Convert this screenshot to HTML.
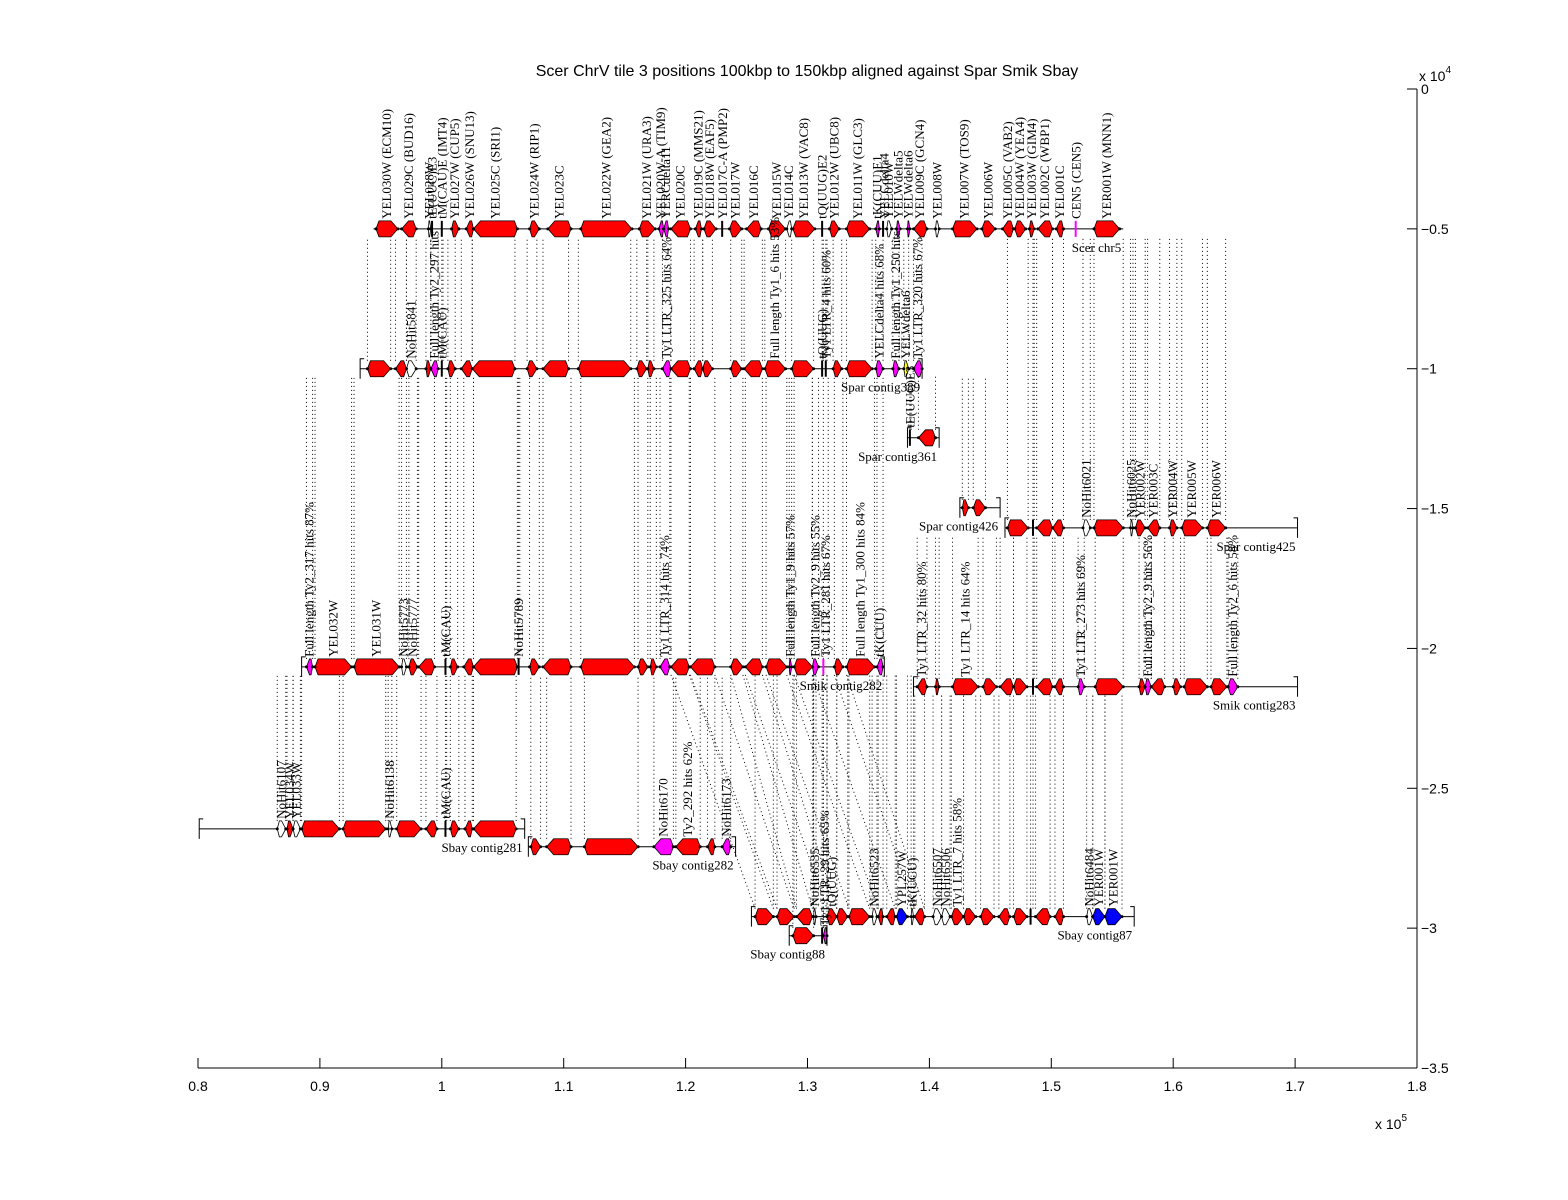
<!DOCTYPE html>
<html><head><meta charset="utf-8">
<style>
html,body{margin:0;padding:0;background:#fff;}
svg{display:block;}
text{font-family:"Liberation Serif",serif;}
.ax{font-family:"Liberation Sans",sans-serif;font-size:14px;}
</style></head>
<body>
<svg id="chart" width="1568" height="1200" viewBox="0 0 1568 1200">
<rect x="0" y="0" width="1568" height="1200" fill="#fff"/>
<text x="807" y="76" text-anchor="middle" class="ax" font-size="16" style="font-size:16px">Scer ChrV tile 3 positions 100kbp to 150kbp aligned against Spar Smik Sbay</text>
<g id="links"></g>
<g id="tracks"></g>
<g id="axes"></g>
</svg>
<script>
// axis domain
const xTicks = [0.8,0.9,1,1.1,1.2,1.3,1.4,1.5,1.6,1.7,1.8];
const yTicks = [0,-0.5,-1,-1.5,-2,-2.5,-3,-3.5];
const yTickLabels = ["0","−0.5","−1","−1.5","−2","−2.5","−3","−3.5"];
// tracks: name, y (x1e4), start/end (kbp), parent track index for links
const trackNames = ["Scer chr5","Spar contig389","Spar contig361","Spar contig426","Spar contig425","Smik contig282","Smik contig283","Sbay contig281","Sbay contig282","Sbay contig87","Sbay contig88"];
const trackY = [-0.5,-1.0,-1.247,-1.497,-1.569,-2.066,-2.137,-2.645,-2.709,-2.959,-3.027];
const trackStart = [94.4,93.3,138.2,142.5,146.2,88.5,138.7,80.1,107.1,125.4,128.5];
const trackEnd = [155.9,139.4,140.8,145.8,170.2,136.3,170.2,106.8,124.1,156.8,131.6];
const trackParent = [-1,0,1,1,0,1,4,5,5,5,5];
// genes: [start kbp, end kbp, strand, color, label]
const scerGenes = [
[94.6,96.4,1,"r","YEL030W (ECM10)"],[96.7,97.9,-1,"r","YEL029C (BUD16)"],[98.9,99.1,0,"o","YEL028W"],
[99.2,99.3,0,"k","tE(UUC)E3"],[100.0,100.1,0,"k","tM(CAU)E (IMT4)"],[100.8,101.4,1,"r","YEL027W (CUP5)"],
[102.0,102.6,-1,"r","YEL026W (SNU13)"],[102.6,106.2,-1,"r","YEL025C (SRI1)"],[107.2,108.0,1,"r","YEL024W (RIP1)"],
[108.7,110.6,-1,"r","YEL023C"],[111.4,115.6,1,"r","YEL022W (GEA2)"],[116.2,117.5,1,"r","YEL021W (URA3)"],
[117.8,118.2,-1,"m","YEL020W-A (TIM9)"],[118.2,118.6,-1,"m","YERCdelta11"],[118.8,120.4,-1,"r","YEL020C"],
[120.8,121.3,-1,"r","YEL019C (MMS21)"],[121.5,122.5,1,"r","YEL018W (EAF5)"],[123.0,123.1,0,"k","YEL017C-A (PMP2)"],
[123.6,124.6,1,"r","YEL017W"],[125.0,126.2,-1,"r","YEL016C"],[126.8,128.2,1,"r","YEL015W"],
[128.3,128.7,-1,"o","YEL014C"],[128.8,130.6,1,"r","YEL013W (VAC8)"],[131.2,131.3,0,"k","tQ(UUG)E2"],
[131.8,132.6,1,"r","YEL012W (UBC8)"],[133.2,135.1,1,"r","YEL011W (GLC3)"],[135.6,135.9,-1,"m","tK(CUU)E1"],
[136.2,136.4,0,"k","YELCdelta4"],[136.5,136.9,1,"o","YEL010W"],[137.3,137.6,1,"m","YELWdelta5"],
[138.2,138.4,1,"m","YELWdelta6"],[138.7,139.8,-1,"r","YEL009C (GCN4)"],[140.5,140.8,1,"o","YEL008W"],
[141.9,143.9,1,"r","YEL007W (TOS9)"],[144.3,145.4,1,"r","YEL006W"],[146.0,146.9,-1,"r","YEL005C (VAB2)"],
[147.0,147.9,1,"r","YEL004W (YEA4)"],[148.2,148.6,1,"r","YEL003W (GIM4)"],[148.9,150.1,-1,"r","YEL002C (WBP1)"],
[150.4,151.0,-1,"r","YEL001C"],[152.0,152.1,0,"m","CEN5 (CEN5)"],[153.5,155.6,1,"r","YER001W (MNN1)"]];
const spar389Genes = [
[93.9,95.8,1,"r",""],[96.2,97.1,-1,"r",""],[97.1,97.9,0,"o","NoHit5841"],[98.7,99.1,1,"r",""],
[99.1,99.7,-1,"m","Full length Ty2_297 hits"],[100.0,100.1,0,"k","tM(CAU)"],[100.5,101.1,1,"r",""],
[101.6,102.5,-1,"r",""],[102.5,106.0,-1,"r",""],[107.0,107.8,1,"r",""],[108.3,110.4,-1,"r",""],
[111.2,115.5,1,"r",""],[116.0,116.8,1,"r",""],[116.9,117.4,1,"r",""],[118.1,118.8,-1,"m","Ty1 LTR_325 hits 64%"],
[118.8,120.4,-1,"r",""],[120.7,121.4,-1,"r",""],[121.4,122.2,1,"r",""],[123.7,124.6,1,"r",""],
[124.8,126.3,-1,"r",""],[126.5,128.2,1,"r","Full length Ty1_6 hits 53%"],[128.7,130.5,1,"r",""],
[131.2,131.3,0,"k","tQ(UUG)"],[131.5,131.6,0,"k","Ty1 LTR_4 hits 60%"],[132.1,132.8,1,"r",""],
[133.2,135.3,1,"r",""],[135.6,136.2,1,"m","YELCdelta4 hits 68%"],[137.0,137.5,1,"m","Full length Ty1_250 hits"],
[137.9,138.3,1,"y","YELWdelta6"],[138.7,139.4,-1,"m","Ty1 LTR_320 hits 67%"]];
const spar361Genes = [[138.4,138.5,0,"k","tE(UUC)E3"],[139.1,140.5,-1,"r",""]];
const spar426Genes = [[142.7,143.2,1,"r",""],[143.6,144.6,1,"r",""]];
const spar425Genes = [
[146.4,148.1,1,"r",""],[148.5,148.6,0,"k",""],[148.8,150.1,-1,"r",""],[150.1,151.0,-1,"r",""],
[152.6,153.2,0,"o","NoHit6021"],[153.5,155.9,1,"r",""],[156.5,156.7,0,"o","NoHit6025"],
[156.9,157.7,1,"r","YER002W"],[157.9,158.9,-1,"r","YER003C"],[159.7,160.3,1,"r","YER004W"],
[160.7,162.4,1,"r","YER005W"],[162.8,164.3,1,"r","YER006W"]];
const smik282Genes = [
[88.9,89.4,-1,"m","Full length Ty2_317 hits 87%"],[89.6,92.6,1,"r","YEL032W"],[92.8,96.5,1,"r","YEL031W"],
[96.7,97.1,0,"o","NoHit5773"],[97.3,98.0,1,"r","NoHit5777"],[98.1,99.4,-1,"r",""],[100.3,100.4,0,"k","tM(CAU)"],
[100.7,101.3,1,"r",""],[101.8,102.6,-1,"r",""],[102.6,106.2,-1,"r",""],[106.3,106.4,0,"k","NoHit5789"],
[107.2,108.0,1,"r",""],[108.3,110.6,-1,"r",""],[111.4,115.8,1,"r",""],[116.1,116.9,1,"r",""],
[117.1,117.6,1,"r",""],[117.9,118.7,-1,"m","Ty1 LTR_314 hits 74%"],[118.8,120.3,-1,"r",""],
[120.4,122.4,-1,"r",""],[123.7,124.7,1,"r",""],[124.9,126.3,-1,"r",""],[126.6,128.3,1,"r",""],
[128.5,128.7,1,"m","Full length Ty1_9 hits 57%"],[128.9,130.4,1,"r",""],[130.4,130.9,1,"m","Full length Ty2_9 hits 55%"],
[131.3,131.7,0,"m","Ty1 LTR_281 hits 67%"],[132.2,132.9,1,"r",""],[133.2,135.5,1,"r","Full length Ty1_300 hits 84%"],
[135.7,136.2,-1,"m","tK(CUU)"]];
const smik283Genes = [
[139.0,139.8,-1,"r","Ty1 LTR_32 hits 80%"],[140.5,140.8,1,"r",""],[141.9,144.0,1,"r","Ty1 LTR_14 hits 64%"],
[144.4,145.5,1,"r",""],[145.8,146.9,-1,"r",""],[146.9,148.0,1,"r",""],[148.5,148.6,0,"k",""],
[148.8,150.1,-1,"r",""],[150.3,151.0,-1,"r",""],[152.2,152.7,1,"m","Ty1 LTR_273 hits 69%"],
[153.6,155.9,1,"r",""],[157.2,157.7,1,"r",""],[157.7,158.2,1,"m","Full length Ty2_9 hits 56%"],
[158.2,159.3,-1,"r",""],[160.0,160.6,1,"r",""],[160.9,162.8,1,"r",""],[163.1,164.4,1,"r",""],
[164.5,165.3,1,"m","Full length Ty2_6 hits 58%"]];
const sbay281Genes = [
[86.5,87.2,0,"o","NoHit6107"],[87.3,87.8,1,"r","YEL034W"],[87.8,88.4,0,"o","YEL033W"],
[88.5,91.6,1,"r",""],[91.9,95.4,1,"r",""],[95.6,95.9,0,"o","NoHit6138"],[96.3,98.3,1,"r",""],
[98.7,99.6,-1,"r",""],[100.3,100.4,0,"k","tM(CAU)"],[100.7,101.4,1,"r",""],[101.9,102.5,-1,"r",""],
[102.6,106.1,-1,"r",""]];
const sbay282Genes = [
[107.3,108.1,1,"r",""],[108.6,110.6,-1,"r",""],[111.7,116.1,1,"r",""],
[117.4,119.0,-1,"m","NoHit6170"],[119.2,121.2,-1,"r","Ty2_292 hits 62%"],[121.8,122.4,-1,"r",""],
[123.0,123.7,-1,"m","NoHit6173"]];
const sbay87Genes = [
[125.7,127.2,1,"r",""],[127.5,128.9,1,"r",""],[129.1,130.4,-1,"r",""],[130.5,130.7,0,"o","NoHit6535"],
[131.6,132.4,1,"r","tQ(UUG)"],[132.4,133.3,1,"r",""],[133.4,135.1,1,"r",""],[135.3,135.7,0,"o","NoHit6523"],
[135.8,136.2,-1,"r",""],[136.5,137.2,-1,"r",""],[137.3,138.2,1,"b","YPL257W"],[138.5,138.7,0,"o","tK(UCU)"],
[138.8,139.6,-1,"r",""],[140.3,141.0,0,"o","NoHit6507"],[141.0,141.7,0,"o","NoHit6506"],
[141.8,142.8,1,"r","Ty1 LTR_7 hits 58%"],[142.8,143.8,1,"r",""],[144.2,145.3,1,"r",""],[145.7,146.6,-1,"r",""],
[146.9,148.0,1,"r",""],[148.3,148.5,0,"k",""],[148.7,149.9,-1,"r",""],[150.3,151.0,-1,"r",""],
[152.9,153.4,0,"o","NoHit6484"],[153.4,154.4,1,"b","YER001W"],[154.4,155.8,1,"b","YER001W"]];
const sbay88Genes = [[128.8,130.5,1,"r",""],[131.2,131.3,0,"k",""],[131.3,131.6,-1,"m","Ty1 LTR_29 hits 65%"]];
const trackGenes = [scerGenes,spar389Genes,spar361Genes,spar426Genes,spar425Genes,smik282Genes,smik283Genes,sbay281Genes,sbay282Genes,sbay87Genes,sbay88Genes];
// diagonal alignments Smik282 -> Sbay87 (kbp pairs)
const crossFrom = [118.8,120.3,120.4,122.4,123.7,124.7,124.9,126.3,126.6,128.3,128.9,130.4,132.2,133.2];
const crossTo   = [125.7,127.2,127.5,128.9,129.1,130.4,131.6,132.4,133.4,135.1,135.8,137.2,138.8,139.6];

const NS="http://www.w3.org/2000/svg";
const X0=198,X1=1417,Y0=89,Y1=1068;
function xs(kbp){return X0+(kbp/100-0.8)/(1.8-0.8)*(X1-X0);}
function ys(v){return Y0+(0-v)/3.5*(Y1-Y0);}
function mk(tag,attrs,parent){const e=document.createElementNS(NS,tag);for(const k in attrs)e.setAttribute(k,attrs[k]);parent.appendChild(e);return e;}
const colors={r:"#ff0000",m:"#ff00ff",b:"#0000ff",y:"#ffff00",o:"#ffffff",k:"#000000"};
const gLinks=document.getElementById("links"),gTracks=document.getElementById("tracks"),gAx=document.getElementById("axes");

// links
trackGenes.forEach((genes,ti)=>{
  let p=trackParent[ti]; if(p<0) return;
  genes.forEach(g=>{
    [g[0],g[1]].forEach(k=>{
      let pp=p;
      if(ti===9) pp = k>=138.7?6:5;
      const x=xs(k);
      const l=mk("line",{x1:x,y1:ys(trackY[ti])-8,x2:x,y2:ys(trackY[pp])+8,stroke:"#000","stroke-width":1,"stroke-dasharray":"1,3"},gLinks);
      
      
    });
  });
});
crossFrom.forEach((k,i)=>{
  const l=mk("line",{x1:xs(k),y1:ys(trackY[5])+8,x2:xs(crossTo[i]),y2:ys(trackY[9])-8,stroke:"#000","stroke-width":1,"stroke-dasharray":"1,3"},gLinks);
  
  
});

// tracks
trackNames.forEach((name,ti)=>{
  const y=ys(trackY[ti]),xa=xs(trackStart[ti]),xb=xs(trackEnd[ti]);
  const g=mk("g",{},gTracks);
  
  
  const ln=mk("line",{x1:xa,y1:y,x2:xb,y2:y,stroke:"#000","stroke-width":1},g);
  
  
  if(ti>0){
    const b1=mk("path",{d:`M${xa+4},${y-10} L${xa},${y-10} L${xa},${y+10}`,fill:"none",stroke:"#000"},g);
    
    
    const b2=mk("path",{d:`M${xb-4},${y-10} L${xb},${y-10} L${xb},${y+10}`,fill:"none",stroke:"#000"},g);
    
    
  }
  trackGenes[ti].forEach(gn=>{
    const a=xs(gn[0]),b=xs(gn[1]),w=b-a,h=8;
    let el;
    if(gn[2]===0 && gn[3]!=="o"){
      el=mk("line",{x1:a,y1:y-h,x2:a,y2:y+h,stroke:gn[3]==="m"?"#ff00ff":"#000","stroke-width":2},g);
    } else {
      const t=Math.min(7,w/2),bk=Math.min(3,w/4);
      let pts;
      if(gn[2]>=0) pts=[[a+bk,y-h],[b-t,y-h],[b,y],[b-t,y+h],[a+bk,y+h],[a,y]];
      else pts=[[b-bk,y-h],[a+t,y-h],[a,y],[a+t,y+h],[b-bk,y+h],[b,y]];
      el=mk("polygon",{points:pts.map(p=>p.join(",")).join(" "),fill:colors[gn[3]],stroke:"#000","stroke-width":0.8},g);
      mk("circle",{cx:a,cy:y,r:1.5,fill:"#000"},g);
      mk("circle",{cx:b,cy:y,r:1.5,fill:"#000"},g);
    }
    
    
    if(gn[4]){
      const cx=(a+b)/2+4, cy=y-10;
      const tx=mk("text",{x:cx,y:cy,transform:`rotate(-90 ${cx} ${cy})`,"font-size":13,fill:"#000"},g);
      tx.textContent=gn[4];
      
      
    }
  });
  const lb=mk("text",{x:xb-2,y:y+23,"text-anchor":"end","font-size":13,fill:"#000"},g);
  lb.textContent=name;
  
  
});

// axes
const xa=mk("line",{x1:X0,y1:Y1,x2:X1,y2:Y1,stroke:"#000"},gAx);


const ya=mk("line",{x1:X1,y1:Y0,x2:X1,y2:Y1,stroke:"#000"},gAx);


xTicks.forEach(v=>{
  const x=xs(v*100);
  const t=mk("line",{x1:x,y1:Y1,x2:x,y2:Y1-10,stroke:"#000"},gAx);
  
  
  const lb=mk("text",{x:x,y:Y1+23,"text-anchor":"middle",class:"ax"},gAx);
  lb.textContent=String(v);
  
  
});
yTicks.forEach((v,i)=>{
  const y=ys(v);
  const t=mk("line",{x1:X1,y1:y,x2:X1-10,y2:y,stroke:"#000"},gAx);
  
  
  const lb=mk("text",{x:X1+4,y:y+5,class:"ax"},gAx);
  lb.textContent=yTickLabels[i];
  
  
});
const ex=mk("text",{x:1375,y:1129,class:"ax"},gAx);
ex.innerHTML='x 10<tspan dy="-8" font-size="10">5</tspan>';


const ey=mk("text",{x:1419,y:81,class:"ax"},gAx);
ey.innerHTML='x 10<tspan dy="-8" font-size="10">4</tspan>';


</script>
</body></html>
